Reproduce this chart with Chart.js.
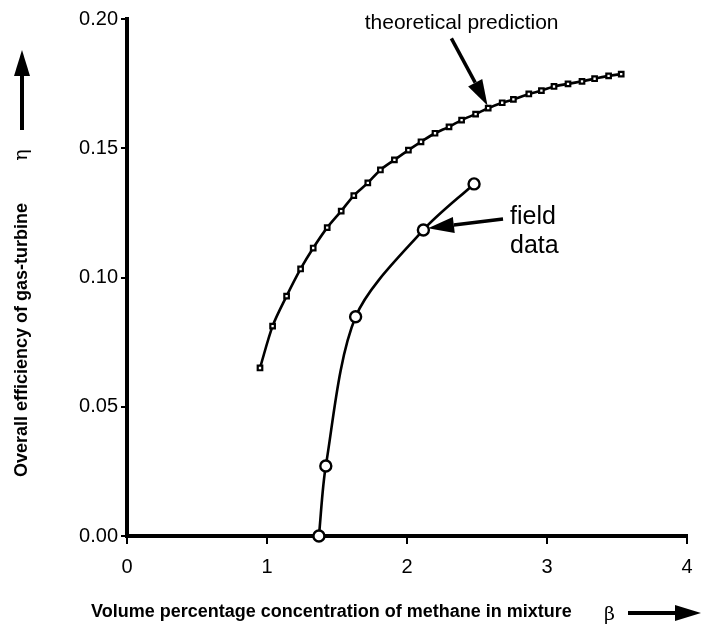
<!DOCTYPE html>
<html>
<head>
<meta charset="utf-8">
<script src="https://cdn.jsdelivr.net/npm/chart.js@4.4.1/dist/chart.umd.min.js"></script>
<style>
  html, body { margin: 0; padding: 0; background: #fff; }
  #wrap { width: 701px; height: 629px; position: relative; }
</style>
</head>
<body>
<div id="wrap"><canvas id="c" width="701" height="629"></canvas></div>
<script>
// ---- data ----
const theoryX = [0.95, 1.04, 1.14, 1.24, 1.33, 1.43, 1.53, 1.62, 1.72, 1.81, 1.91, 2.01, 2.10, 2.20,
                 2.30, 2.39, 2.49, 2.58, 2.68, 2.76, 2.87, 2.96, 3.05, 3.15, 3.25, 3.34, 3.44, 3.53];
const theoryY = [0.065, 0.0812, 0.0928, 0.1033, 0.1114, 0.1193, 0.1257, 0.1317, 0.1366, 0.1416, 0.1455,
                 0.1493, 0.1525, 0.1558, 0.1583, 0.1609, 0.1632, 0.1655, 0.1676, 0.1689, 0.1710, 0.1723,
                 0.1739, 0.1749, 0.1759, 0.1769, 0.1780, 0.1787];
const fieldX = [1.371, 1.42, 1.633, 2.117, 2.479];
const fieldY = [0.0, 0.0271, 0.0848, 0.1184, 0.1362];

const xTicks = [0, 1, 2, 3, 4];
const yTicks = [0.00, 0.05, 0.10, 0.15, 0.20];

const xTitle = "Volume percentage concentration of methane in mixture";
const xSymbol = "\u03B2";
const yTitle = "Overall efficiency of gas-turbine";
const ySymbol = "\u03B7";
const theoryLabel = "theoretical prediction";
const fieldLabel = ["field", "data"];

// annotation anchors, in data units
const theoryText = { x: 2.39, y: 0.1985 };
const theoryArrow = { x0: 2.317, y0: 0.1925, x1: 2.575, y1: 0.1665 };
const fieldText = { x: 2.736, y: 0.1207 };
const fieldArrow = { x0: 2.686, y0: 0.1226, x1: 2.15, y1: 0.1191 };

const FONT = "'Liberation Sans', Arial, Helvetica, sans-serif";

function arrow(ctx, x0, y0, x1, y1, lw, headLen, headHalf) {
  const ang = Math.atan2(y1 - y0, x1 - x0);
  const bx = x1 - headLen * Math.cos(ang), by = y1 - headLen * Math.sin(ang);
  ctx.save();
  ctx.strokeStyle = '#000'; ctx.fillStyle = '#000'; ctx.lineWidth = lw;
  ctx.beginPath(); ctx.moveTo(x0, y0); ctx.lineTo(bx, by); ctx.stroke();
  ctx.beginPath();
  ctx.moveTo(x1, y1);
  ctx.lineTo(bx + headHalf * Math.sin(ang), by - headHalf * Math.cos(ang));
  ctx.lineTo(bx - headHalf * Math.sin(ang), by + headHalf * Math.cos(ang));
  ctx.closePath(); ctx.fill();
  ctx.restore();
}

const decor = {
  id: 'decor',
  afterDraw(chart) {
    const ctx = chart.ctx, xs = chart.scales.x, ys = chart.scales.y;
    ctx.save();
    ctx.fillStyle = '#000';
    // theoretical prediction annotation
    ctx.font = "21px " + FONT;
    ctx.textAlign = 'center'; ctx.textBaseline = 'middle';
    ctx.fillText(theoryLabel, xs.getPixelForValue(theoryText.x), ys.getPixelForValue(theoryText.y));
    arrow(ctx, xs.getPixelForValue(theoryArrow.x0), ys.getPixelForValue(theoryArrow.y0),
          xs.getPixelForValue(theoryArrow.x1), ys.getPixelForValue(theoryArrow.y1), 3.5, 26, 8);
    // field data annotation
    ctx.font = "25px " + FONT;
    ctx.textAlign = 'left'; ctx.textBaseline = 'alphabetic';
    const fx = xs.getPixelForValue(fieldText.x), fy = ys.getPixelForValue(fieldText.y);
    ctx.fillText(fieldLabel[0], fx, fy);
    ctx.fillText(fieldLabel[1], fx, fy + 29);
    arrow(ctx, xs.getPixelForValue(fieldArrow.x0), ys.getPixelForValue(fieldArrow.y0),
          xs.getPixelForValue(fieldArrow.x1), ys.getPixelForValue(fieldArrow.y1), 3.5, 26, 8);

    // x axis title
    ctx.font = "bold 18px " + FONT;
    ctx.textAlign = 'left'; ctx.textBaseline = 'middle';
    ctx.fillText(xTitle, 91, 612);
    ctx.font = "19px 'DejaVu Serif', serif";
    ctx.fillText(xSymbol, 604, 615);
    arrow(ctx, 628, 613, 701, 613, 4, 26, 8);

    // y axis title
    ctx.save();
    ctx.translate(22, 340);
    ctx.rotate(-Math.PI / 2);
    ctx.font = "bold 18px " + FONT;
    ctx.textAlign = 'center'; ctx.textBaseline = 'middle';
    ctx.fillText(yTitle, 0, 0);
    ctx.restore();
    ctx.save();
    ctx.translate(22, 155);
    ctx.rotate(-Math.PI / 2);
    ctx.font = "19px 'DejaVu Serif', serif";
    ctx.textAlign = 'center'; ctx.textBaseline = 'middle';
    ctx.fillText(ySymbol, 0, 0);
    ctx.restore();
    arrow(ctx, 22, 130, 22, 50, 4, 26, 8);
    ctx.restore();
  }
};

new Chart(document.getElementById('c'), {
  type: 'scatter',
  data: {
    datasets: [
      {
        label: 'theoretical prediction',
        data: theoryX.map((x, i) => ({ x, y: theoryY[i] })),
        showLine: true,
        borderColor: '#000', borderWidth: 2.6,
        pointStyle: 'rect', pointRadius: 3.2, pointBorderWidth: 2.2,
        pointBackgroundColor: '#fff', pointBorderColor: '#000',
        tension: 0.3,
        clip: false
      },
      {
        label: 'field data',
        data: fieldX.map((x, i) => ({ x, y: fieldY[i] })),
        showLine: true,
        borderColor: '#000', borderWidth: 2.6,
        pointStyle: 'circle', pointRadius: 5.5, pointBorderWidth: 2.4,
        pointBackgroundColor: '#fff', pointBorderColor: '#000',
        tension: 0.3,
        clip: false
      }
    ]
  },
  options: {
    responsive: false,
    animation: false,
    devicePixelRatio: 1,
    layout: { padding: { left: 0, right: 14, top: 19, bottom: 0 } },
    plugins: { legend: { display: false }, tooltip: { enabled: false } },
    scales: {
      x: {
        type: 'linear', min: 0, max: 4,
        afterBuildTicks(s) { s.ticks = xTicks.map(v => ({ value: v })); },
        afterFit(s) { s.height = 93; s.paddingRight = 0; s.paddingLeft = 0; },
        grid: { drawOnChartArea: false, drawTicks: true, tickLength: 8, color: '#000', lineWidth: 2 },
        border: { display: true, color: '#000', width: 4 },
        ticks: { color: '#000', font: { family: FONT, size: 20 }, padding: 11, maxRotation: 0,
                 callback: v => String(v) }
      },
      y: {
        type: 'linear', min: 0, max: 0.2,
        afterBuildTicks(s) { s.ticks = yTicks.map(v => ({ value: v })); },
        afterFit(s) { s.width = 127; s.paddingTop = 0; s.paddingBottom = 0; },
        grid: { drawOnChartArea: false, drawTicks: true, tickLength: 6, color: '#000', lineWidth: 2 },
        border: { display: true, color: '#000', width: 4 },
        ticks: { color: '#000', font: { family: FONT, size: 20 }, padding: 3,
                 callback: v => Number(v).toFixed(2) }
      }
    }
  },
  plugins: [decor]
});
</script>
</body>
</html>
